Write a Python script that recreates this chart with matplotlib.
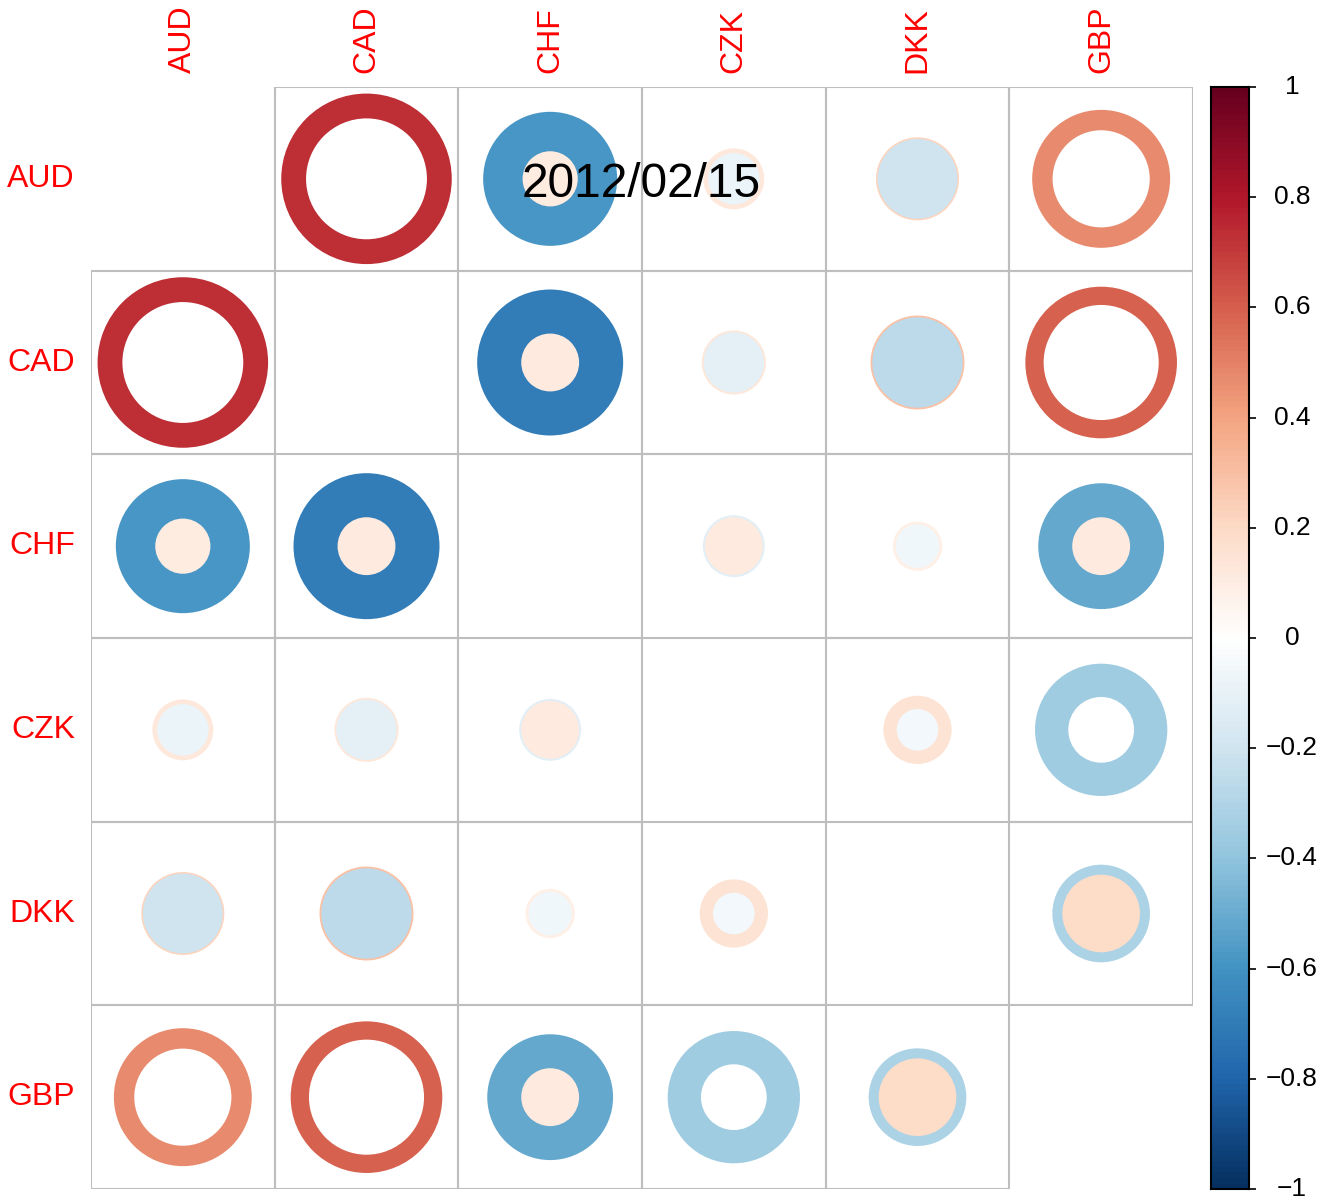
import numpy as np
import matplotlib
matplotlib.use("Agg")
import matplotlib.pyplot as plt
from matplotlib.colors import LinearSegmentedColormap
from matplotlib.patches import Circle, Rectangle

plt.rcParams['font.family'] = ['Liberation Sans', 'DejaVu Sans']

# ------------------------------------------
# Données : bornes de l'intervalle de confiance + estimation
# ------------------------------------------
currencies = ["AUD", "CAD", "CHF", "CZK", "DKK", "GBP"]
pairs = [("AUD", "CAD"), ("AUD", "CHF"), ("AUD", "CZK"), ("AUD", "DKK"), ("AUD", "GBP"),
         ("CAD", "CHF"), ("CAD", "CZK"), ("CAD", "DKK"), ("CAD", "GBP"),
         ("CHF", "CZK"), ("CHF", "DKK"), ("CHF", "GBP"),
         ("CZK", "DKK"), ("CZK", "GBP"),
         ("DKK", "GBP")]
lower = [0.48, -0.59, -0.087, -0.209, 0.31,
         -0.70, -0.12, -0.268, 0.435,
         -0.126, -0.062, -0.52,
         -0.057, -0.575,
         -0.313]
upper = [0.955, 0.10, 0.122, 0.226, 0.625,
         0.11, 0.135, 0.29, 0.755,
         0.11, 0.08, 0.11,
         0.153, -0.142,
         0.198]
estimate = [0.73, -0.25, 0.02, 0.01, 0.475,
            -0.32, 0.01, 0.01, 0.59,
            -0.01, 0.01, -0.22,
            0.05, -0.355,
            -0.06]
date_label = "2012/02/15"
cb_ticks = [1, 0.8, 0.6, 0.4, 0.2, 0, -0.2, -0.4, -0.6, -0.8, -1]
cb_labels = ["1", "0.8", "0.6", "0.4", "0.2", "0", "\u22120.2", "\u22120.4", "\u22120.6", "\u22120.8", "\u22121"]

rdbu = ["#053061", "#2166AC", "#4393C3", "#92C5DE", "#D1E5F0", "#FFFFFF",
        "#FDDBC7", "#F4A582", "#D6604D", "#B2182B", "#67001F"]
cmap = LinearSegmentedColormap.from_list("corr", rdbu, N=200)


def col(v):
    return cmap((v + 1) / 2)


n = len(currencies)
idx = {c: i for i, c in enumerate(currencies)}
low_m = np.zeros((n, n))
upp_m = np.zeros((n, n))
est_m = np.zeros((n, n))
for (a, b), lo, hi, es in zip(pairs, lower, upper, estimate):
    for i, j in [(idx[a], idx[b]), (idx[b], idx[a])]:
        low_m[i, j], upp_m[i, j], est_m[i, j] = lo, hi, es

# ------------------------------------------
# Figure
# ------------------------------------------
W, H = 1323, 1199
fig = plt.figure(figsize=(W / 100, H / 100), dpi=100)

x0, x1, y0, y1 = 91, 1193, 87, 1189
cell = (x1 - x0) / n
ax = fig.add_axes([x0 / W, 1 - y1 / H, (x1 - x0) / W, (y1 - y0) / H])
ax.set_xlim(0, n)
ax.set_ylim(n, 0)
ax.axis("off")

for i in range(n):
    for j in range(n):
        if i == j:
            continue
        ax.add_patch(Rectangle((j, i), 1, 1, fill=False, edgecolor="#BEBEBE", lw=1.5, zorder=1))
        lo, hi = low_m[i, j], upp_m[i, j]
        big, small = (lo, hi) if abs(lo) >= abs(hi) else (hi, lo)
        if lo * hi > 0:
            # même signe : couleur de l'estimation, trou blanc
            c_out, c_in = col(est_m[i, j]), "white"
        else:
            c_out, c_in = col(big), col(small)
        cx, cy = j + 0.5, i + 0.5
        ax.add_patch(Circle((cx, cy), 0.95 * np.sqrt(abs(big)) / 2, facecolor=c_out,
                            edgecolor="none", zorder=2))
        ax.add_patch(Circle((cx, cy), 0.95 * np.sqrt(abs(small)) / 2, facecolor=c_in,
                            edgecolor="none", zorder=3))

for k, name in enumerate(currencies):
    ax.text(-16 / cell, k + 0.5 + 8.2 / cell, name, ha="right", va="baseline",
            color="red", fontsize=23, clip_on=False)
    ax.text(k + 0.5, -14 / cell, name, ha="center", va="bottom", rotation=90,
            color="red", fontsize=23, clip_on=False)

# titre / date
fig.text(641.5 / W, 1 - 197 / H, date_label, ha="center", va="baseline", fontsize=34.5)

# ------------------------------------------
# Légende de couleur
# ------------------------------------------
cx0, cx1 = 1210.5, 1248.5
cax = fig.add_axes([cx0 / W, 1 - y1 / H, (cx1 - cx0) / W, (y1 - y0) / H])
grad = np.linspace(-1, 1, 200).reshape(-1, 1)
cax.imshow(grad, cmap=cmap, vmin=-1, vmax=1, aspect="auto", origin="lower",
           extent=[0, 1, -1, 1], interpolation="nearest")
cax.set_xlim(0, 1)
cax.set_ylim(-1, 1)
cax.set_xticks([])
cax.yaxis.tick_right()
cax.set_yticks(cb_ticks)
cax.set_yticklabels([])
cax.tick_params(axis="y", length=5, width=1.2, direction="out", color="black")
for s in cax.spines.values():
    s.set_linewidth(1.5)
for t, lab in zip(cb_ticks, cb_labels):
    ypx = y0 + (1 - t) / 2 * (y1 - y0)
    fig.text(1292 / W, 1 - ypx / H, lab, ha="center", va="center", fontsize=19)

fig.savefig("out.png", dpi=100)
